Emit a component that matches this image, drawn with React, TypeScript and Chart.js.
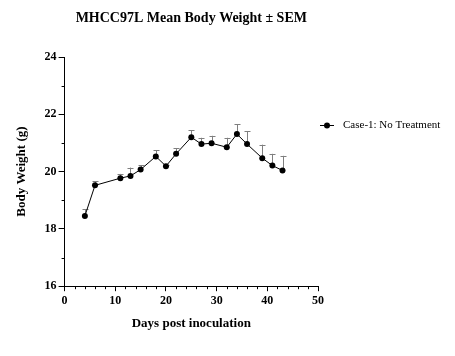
import React, { useEffect, useRef } from "react";
import { Chart, registerables } from "chart.js";

Chart.register(...registerables);

const days = [4, 6, 11, 13, 15, 18, 20, 22, 25, 27, 29, 32, 34, 36, 39, 41, 43];
const meanWeight = [18.45, 19.52, 19.77, 19.85, 20.07, 20.53, 20.19, 20.62, 21.2, 20.96, 20.99, 20.85, 21.31, 20.96, 20.47, 20.21, 20.04];
const semWeight = [0.23, 0.15, 0.15, 0.29, 0.16, 0.22, 0.04, 0.2, 0.25, 0.22, 0.26, 0.33, 0.34, 0.44, 0.47, 0.41, 0.51];
const seriesLabel = "Case-1: No Treatment";
const chartTitle = "MHCC97L Mean Body Weight ± SEM";
const xTitle = "Days post inoculation";
const yTitle = "Body Weight (g)";
const xRange = [0, 50];
const yRange = [16, 24];
const xMajorStep = 10;
const xMinorStep = 2;
const yMajorStep = 2;
const yMinorStep = 1;

const FONT = "'Liberation Serif', 'Times New Roman', serif";

const errorBarPlugin = {
  id: "errorBars",
  beforeDatasetsDraw(chart: any) {
    const ctx = chart.ctx;
    const yScale = chart.scales.y;
    chart.data.datasets.forEach((ds: any, di: number) => {
      const meta = chart.getDatasetMeta(di);
      const errs = ds.sem as number[];
      if (!errs) return;
      ctx.save();
      ctx.strokeStyle = "#7f7f7f";
      ctx.lineWidth = 1;
      meta.data.forEach((pt: any, i: number) => {
        const x = Math.round(pt.x) + 0.5;
        const y0 = pt.y;
        const y1 = yScale.getPixelForValue(ds.data[i].y + errs[i]);
        ctx.beginPath();
        ctx.moveTo(x, y0);
        ctx.lineTo(x, y1);
        ctx.moveTo(x - 3, Math.round(y1) + 0.5);
        ctx.lineTo(x + 3, Math.round(y1) + 0.5);
        ctx.stroke();
      });
      ctx.restore();
    });
  },
};

const minorTickPlugin = {
  id: "minorTicks",
  afterDraw(chart: any) {
    const ctx = chart.ctx;
    const xs = chart.scales.x;
    const ys = chart.scales.y;
    const area = chart.chartArea;
    ctx.save();
    ctx.strokeStyle = "#000";
    ctx.lineWidth = 1;
    ctx.beginPath();
    for (let v = xRange[0]; v <= xRange[1]; v += xMinorStep) {
      if (v % xMajorStep === 0) continue;
      const px = Math.round(xs.getPixelForValue(v)) + 0.5;
      ctx.moveTo(px, area.bottom);
      ctx.lineTo(px, area.bottom + 3);
    }
    for (let v = yRange[0]; v <= yRange[1]; v += yMinorStep) {
      if (v % yMajorStep === 0) continue;
      const py = Math.round(ys.getPixelForValue(v)) + 0.5;
      ctx.moveTo(area.left, py);
      ctx.lineTo(area.left - 3, py);
    }
    ctx.stroke();
    ctx.restore();
  },
};

const legendPlugin = {
  id: "customLegend",
  afterDraw(chart: any) {
    const ctx = chart.ctx;
    const area = chart.chartArea;
    const ds = chart.data.datasets[0];
    const lx = area.right + 2;
    const ly = area.top + 68.5;
    ctx.save();
    ctx.strokeStyle = "#000";
    ctx.lineWidth = 1;
    ctx.beginPath();
    ctx.moveTo(lx, ly);
    ctx.lineTo(lx + 14, ly);
    ctx.stroke();
    ctx.fillStyle = "#000";
    ctx.beginPath();
    ctx.arc(lx + 7, ly, 3, 0, Math.PI * 2);
    ctx.fill();
    ctx.font = `11px ${FONT}`;
    ctx.textBaseline = "middle";
    ctx.textAlign = "left";
    ctx.fillText(ds.label, lx + 23, ly);
    ctx.restore();
  },
};

export default function App() {
  const ref = useRef<HTMLCanvasElement | null>(null);
  useEffect(() => {
    if (!ref.current) return;
    const chart = new Chart(ref.current, {
      type: "line",
      data: {
        datasets: [
          {
            label: seriesLabel,
            data: days.map((d, i) => ({ x: d, y: meanWeight[i] })),
            sem: semWeight,
            borderColor: "#000",
            backgroundColor: "#000",
            borderWidth: 1,
            pointRadius: 3,
            pointBackgroundColor: "#000",
            pointBorderColor: "#000",
            pointBorderWidth: 0,
            tension: 0,
          } as any,
        ],
      },
      options: {
        animation: false,
        responsive: false,
        layout: { padding: { left: 0, right: 137, top: 0, bottom: 21 } },
        plugins: {
          legend: { display: false },
          tooltip: { enabled: false },
          title: {
            display: true,
            text: chartTitle,
            fullSize: false,
            color: "#000",
            font: { family: FONT, size: 14, weight: "bold" },
            padding: { top: 9.6, bottom: 30.6 },
          },
        },
        scales: {
          x: {
            type: "linear",
            min: xRange[0],
            max: xRange[1],
            border: { color: "#000", width: 1 },
            grid: { drawOnChartArea: false, drawTicks: true, tickLength: 5, color: "#000" },
            ticks: {
              stepSize: xMajorStep,
              color: "#000",
              padding: 3,
              maxRotation: 0,
              font: { family: FONT, size: 12, weight: "bold" },
            },
            title: {
              display: true,
              text: xTitle,
              color: "#000",
              font: { family: FONT, size: 13, weight: "bold" },
              padding: { top: 3.8, bottom: 4 },
            },
          },
          y: {
            type: "linear",
            min: yRange[0],
            max: yRange[1],
            border: { color: "#000", width: 1 },
            grid: { drawOnChartArea: false, drawTicks: true, tickLength: 6, color: "#000" },
            ticks: {
              stepSize: yMajorStep,
              color: "#000",
              padding: 2,
              font: { family: FONT, size: 12, weight: "bold" },
            },
            title: {
              display: true,
              text: yTitle,
              color: "#000",
              font: { family: FONT, size: 13, weight: "bold" },
              padding: { top: 14, bottom: 13 },
            },
          },
        },
      },
      plugins: [errorBarPlugin, minorTickPlugin, legendPlugin],
    });
    return () => chart.destroy();
  }, []);
  return (
    <div style={{ position: "absolute", left: 0, top: 0, width: 455, height: 356, background: "#fff" }}>
      <canvas ref={ref} width={455} height={356} style={{ display: "block" }} />
    </div>
  );
}
